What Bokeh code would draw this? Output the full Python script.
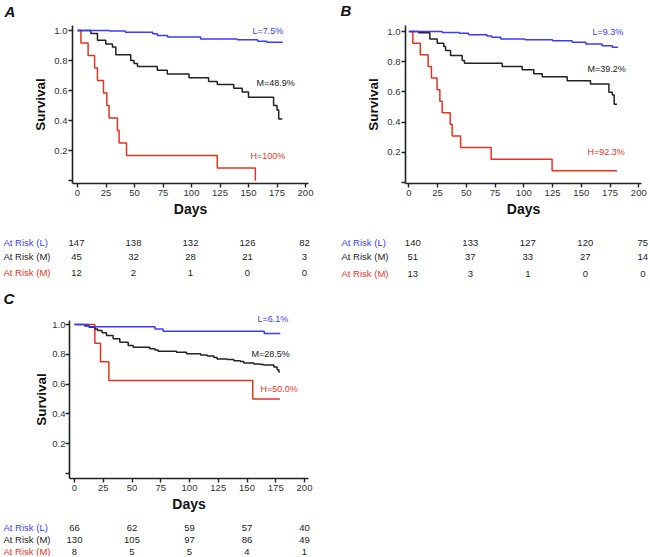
from bokeh.plotting import figure
from bokeh.models import Range1d, FixedTicker, ColumnDataSource
from bokeh.layouts import column, row
from bokeh.embed import file_html
from bokeh.resources import INLINE
from bokeh.core.properties import value

FONT = "Liberation Sans"
BLUE = "#3b3bff"
BLACK = "#222222"
RED = "#e8321e"

# ---------------- data ----------------
# Panel A
A_L_t = [0, 28, 42, 66, 70, 79, 108, 140, 158, 166, 180]
A_L_s = [1.0, 0.996, 0.989, 0.978, 0.967, 0.956, 0.944, 0.938, 0.929, 0.922, 0.922]
A_M_t = [0, 11.7, 17.5, 24.8, 30.7, 33.6, 46.7, 49.6, 52.6, 70, 78.8, 97.8, 115, 122.6, 137, 144.5, 150, 172, 175, 176.5, 179.6]
A_M_s = [1.0, 0.98, 0.935, 0.91, 0.89, 0.838, 0.80, 0.78, 0.76, 0.735, 0.71, 0.685, 0.66, 0.64, 0.615, 0.59, 0.555, 0.50, 0.47, 0.41, 0.41]
A_H_t = [1, 3, 9.3, 15, 17.5, 22.8, 25.7, 27.7, 35, 36.5, 43, 122.6, 156]
A_H_s = [1.0, 0.917, 0.833, 0.75, 0.667, 0.583, 0.5, 0.417, 0.333, 0.25, 0.167, 0.083, 0.0]

# Panel B
B_L_t = [0, 29, 44, 52, 68, 72, 80, 101, 125, 142, 154, 168, 177, 182]
B_L_s = [1.0, 0.994, 0.988, 0.978, 0.97, 0.962, 0.951, 0.946, 0.939, 0.928, 0.917, 0.906, 0.895, 0.895]
B_M_t = [0, 8.7, 18.3, 24.7, 30.4, 32, 36.3, 46.4, 48.4, 81.2, 98.6, 108.7, 116, 137.7, 158, 174, 177, 178.6, 181]
B_M_s = [1.0, 0.991, 0.951, 0.923, 0.901, 0.874, 0.841, 0.808, 0.79, 0.768, 0.746, 0.72, 0.70, 0.674, 0.652, 0.597, 0.58, 0.519, 0.519]
B_H_t = [2, 3.5, 10, 16.8, 19.7, 24.6, 27, 29, 36, 37.7, 45, 71.6, 124.6, 181]
B_H_s = [1.0, 0.923, 0.846, 0.769, 0.692, 0.615, 0.538, 0.462, 0.385, 0.308, 0.231, 0.154, 0.077, 0.077]

# Panel C
C_L_t = [0, 12, 70, 77, 165, 179]
C_L_s = [1.0, 0.985, 0.97, 0.955, 0.939, 0.939]
C_M_t = [0, 9, 13, 17.7, 20, 24, 27.8, 33.6, 39.4, 46.7, 51, 65.5, 70, 72.8, 88.7, 97.4, 109.6, 115.4,
         121.2, 124, 132.8, 138.6, 144.3, 147.2, 156, 161.7, 164.6, 173.3, 176.2, 177.7, 178.6]
C_M_s = [1.0, 0.99, 0.982, 0.97, 0.96, 0.945, 0.926, 0.904, 0.881, 0.859, 0.848, 0.837, 0.829, 0.821, 0.814, 0.803, 0.796, 0.789,
         0.778, 0.769, 0.765, 0.756, 0.751, 0.742, 0.735, 0.731, 0.729, 0.715, 0.697, 0.682, 0.682]
C_H_t = [10, 17.7, 22.6, 29.9, 155, 178.6]
C_H_s = [1.0, 0.875, 0.75, 0.625, 0.5, 0.5]

# end-of-curve notes
A_notes = ["L=7.5%", "M=48.9%", "H=100%"]
B_notes = ["L=9.3%", "M=39.2%", "H=92.3%"]
C_notes = ["L=6.1%", "M=28.5%", "H=50.0%"]

# at-risk tables
risk_days = [0, 50, 100, 150, 200]
risk_labels = ["At Risk (L)", "At Risk (M)", "At Risk (M)"]
A_risk_L = [147, 138, 132, 126, 82]
A_risk_M = [45, 32, 28, 21, 3]
A_risk_H = [12, 2, 1, 0, 0]
B_risk_L = [140, 133, 127, 120, 75]
B_risk_M = [51, 37, 33, 27, 14]
B_risk_H = [13, 3, 1, 0, 0]
C_risk_L = [66, 62, 59, 57, 40]
C_risk_M = [130, 105, 97, 86, 49]
C_risk_H = [8, 5, 5, 4, 1]

x_ticks = [0, 25, 50, 75, 100, 125, 150, 175, 200]
y_ticks = [0, 0.2, 0.4, 0.6, 0.8, 1.0]
y_tick_labels = ["", "0.2", "0.4", "0.6", "0.8", "1.0"]

COLORS = [BLUE, BLACK, RED]


class Geo:
    """Pixel geometry of one panel (figure-local pixels)."""
    def __init__(self, w, h, day0, kx, zero, ky):
        self.w, self.h, self.day0, self.kx, self.zero, self.ky = w, h, day0, kx, zero, ky

    def x(self, px):
        return (px - self.day0) / self.kx

    def y(self, py):
        return (self.zero - py) / self.ky


def panel(letter, g, axis_px, curves, notes, note_px, letter_px, table_rows, row_py, label_px,
          num_shift_px, ylab_standoff, ytick_standoff):
    ax_left, ax_right, ax_top, ax_bot = axis_px
    p = figure(width=g.w, height=g.h, x_range=Range1d(g.x(0), g.x(g.w)),
               y_range=Range1d(g.y(g.h), g.y(0)), output_backend="svg",
               toolbar_location=None, title=None, min_border=0)
    p.outline_line_color = None
    p.xgrid.visible = False
    p.ygrid.visible = False
    p.background_fill_color = "white"
    p.border_fill_color = "white"
    xa, ya = p.xaxis[0], p.yaxis[0]
    xa.fixed_location = g.y(ax_bot)
    ya.fixed_location = g.x(ax_left)
    xa.bounds = (g.x(ax_left), g.x(ax_right))
    ya.bounds = (g.y(ax_bot), g.y(ax_top))
    for ax in (xa, ya):
        ax.axis_line_width = 1.6
        ax.axis_line_color = "#222222"
        ax.major_tick_line_width = 1.4
        ax.major_tick_line_color = "#222222"
        ax.major_tick_out = 4
        ax.major_tick_in = 0
        ax.minor_tick_line_color = None
        ax.major_label_text_font = FONT
        ax.major_label_text_font_size = "9.5px"
        ax.major_label_text_color = "#333333"
        ax.axis_label_text_font = FONT
        ax.axis_label_text_font_style = "bold"
        ax.axis_label_text_color = "#111111"
    xa.major_label_standoff = 2
    ya.major_label_standoff = ytick_standoff
    xa.ticker = FixedTicker(ticks=x_ticks)
    ya.ticker = FixedTicker(ticks=y_ticks)
    ya.major_label_overrides = {t: l for t, l in zip(y_ticks, y_tick_labels)}
    xa.axis_label = "Days"
    ya.axis_label = "Survival"
    xa.axis_label_text_font_size = "14px"
    ya.axis_label_text_font_size = "13.5px"
    xa.axis_label_standoff = 2
    ya.axis_label_standoff = ylab_standoff

    for (t, s), c in zip(curves[::-1], COLORS[::-1]):
        p.step(t, s, mode="after", line_color=c, line_width=1.5)

    # notes at curve ends
    p.text(x=[g.x(px) for px, _ in note_px], y=[g.y(py) for _, py in note_px], text=notes,
           text_color=COLORS, text_font=value(FONT), text_font_size="9px",
           text_align="left", text_baseline="middle")

    # panel letter
    p.text(x=[g.x(letter_px[0])], y=[g.y(letter_px[1])], text=[letter], text_color="#111111",
           text_font=value(FONT), text_font_size="15px", text_font_style="bold italic",
           text_align="left", text_baseline="middle")

    # at-risk table
    ly = [g.y(py) for py in row_py]
    p.text(x=[g.x(label_px)] * 3, y=ly, text=risk_labels, text_color=COLORS,
           text_font=value(FONT), text_font_size="9.5px", text_align="left", text_baseline="middle")
    nx, ny, nt = [], [], []
    shift = num_shift_px / g.kx
    for yy, vals in zip(ly, table_rows):
        for d, v in zip(risk_days, vals):
            nx.append(d + shift)
            ny.append(yy)
            nt.append(str(v))
    p.text(x="x", y="y", text="t", source=ColumnDataSource(dict(x=nx, y=ny, t=nt)),
           text_color="#222222", text_font=value(FONT), text_font_size="9.5px",
           text_align="center", text_baseline="middle")
    return p


# Panel A: page x 0..333, y 0..282
gA = Geo(333, 282, 77, 1.14, 180, 150.0)
figA = panel("A", gA, (72, 308, 25, 183),
             [(A_L_t, A_L_s), (A_M_t, A_M_s), (A_H_t, A_H_s)], A_notes,
             [(252, 30), (256, 82), (250, 155)], (4, 11),
             [A_risk_L, A_risk_M, A_risk_H], [242, 256, 272], 3, -1, 3, 1)

# Panel B: page x 333..650, y 0..282 (local x = page x - 333)
gB = Geo(317, 282, 408.3 - 333, 1.15, 182, 151.0)
figB = panel("B", gB, (405 - 333, 641 - 333, 25, 183),
             [(B_L_t, B_L_s), (B_M_t, B_M_s), (B_H_t, B_H_s)], B_notes,
             [(592 - 333, 31), (587 - 333, 68), (587 - 333, 151)], (340 - 333, 10),
             [B_risk_L, B_risk_M, B_risk_H], [242, 256, 273], 341 - 333, 4, 3, 1)

# Panel C: page x 0..333, y 282..556 (local y = page y - 282)
gC = Geo(333, 274, 74, 1.15, 473 - 282, 149.0)
figC = panel("C", gC, (69, 308, 320 - 282, 478 - 282),
             [(C_L_t, C_L_s), (C_M_t, C_M_s), (C_H_t, C_H_s)], C_notes,
             [(257, 318 - 282), (251, 353 - 282), (260, 388 - 282)], (3, 297.5 - 282),
             [C_risk_L, C_risk_M, C_risk_H], [527 - 282, 539 - 282, 551 - 282], 3, 0, 0, 0)

page = column(row(figA, figB), figC)

open("out.html", "w").write(file_html(page, INLINE))
